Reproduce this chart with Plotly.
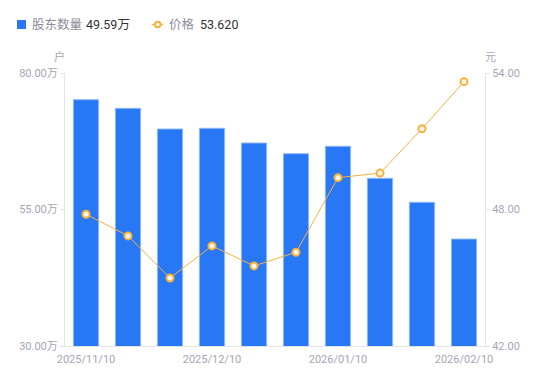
import plotly.graph_objects as go

dates = ["2025/11/10", "2025/11/20", "2025/11/30", "2025/12/10", "2025/12/20",
         "2025/12/31", "2026/01/10", "2026/01/20", "2026/01/31", "2026/02/10"]
holders = [75.11, 73.53, 69.74, 69.87, 67.18, 65.22, 66.58, 60.71, 56.32, 49.59]  # 万户
prices = [47.79, 46.84, 44.99, 46.40, 45.52, 46.12, 49.40, 49.60, 51.55, 53.62]

x_tickvals = ["2025/11/10", "2025/12/10", "2026/01/10", "2026/02/10"]
left_tickvals = [30, 55, 80]
left_ticktext = ["30.00万", "55.00万", "80.00万"]
right_tickvals = [42, 48, 54]
right_ticktext = ["42.00", "48.00", "54.00"]

holder_label = "股东数量"
holder_latest = "49.59万"
price_label = "价格"
price_latest = "53.620"

BLUE = "#2878F5"
ORANGE = "#F7B13C"
GRAY = "#A3A6B4"
LEG_GRAY = "#8A8D99"
DARK = "#333333"
AXIS = "#E3E5EA"
FONT = "Roboto, Noto Sans CJK SC, sans-serif"

# page has an 8px body margin; figure is sized to fill the 550x381 window
OFF = 8
W, H = 550 - OFF, 381 - OFF
# plot area in page pixels
PL, PR, PT, PB = 65, 485, 73, 346
L, R, T, B = PL - OFF, W - (PR - OFF), PT - OFF, H - (PB - OFF)
PW, PH = PR - PL, PB - PT


def px(x):
    return (x - PL) / PW


def py(y):
    return (PB - y) / PH


fig = go.Figure()
fig.add_trace(go.Bar(
    x=dates, y=holders, yaxis="y", name=holder_label,
    marker=dict(color=BLUE, line=dict(color="#8DB8FA", width=1)),
    width=0.6,
))
fig.add_trace(go.Scatter(
    x=dates, y=prices, yaxis="y2", mode="lines+markers", name=price_label,
    line=dict(color=ORANGE, width=1),
    marker=dict(size=7, color="#FFF6E6", line=dict(color=ORANGE, width=2)),
))

ann = []
shapes = []
# legend
shapes.append(dict(type="rect", xref="paper", yref="paper",
                   x0=px(17), x1=px(26), y0=py(29), y1=py(20),
                   fillcolor=BLUE, line=dict(width=0)))
shapes.append(dict(type="line", xref="paper", yref="paper",
                   x0=px(152), x1=px(163), y0=py(24.5), y1=py(24.5),
                   line=dict(color=ORANGE, width=1.5)))
shapes.append(dict(type="circle", xref="paper", yref="paper",
                   x0=px(155), x1=px(160.5), y0=py(27.3), y1=py(21.7),
                   fillcolor="white", line=dict(color=ORANGE, width=2)))
for txt, x, col in [(holder_label, 30, LEG_GRAY), (holder_latest, 84, DARK),
                    (price_label, 167, LEG_GRAY), (price_latest, 198, DARK)]:
    ann.append(dict(text=txt, xref="paper", yref="paper", x=px(x), y=py(25),
                    xanchor="left", yanchor="middle", showarrow=False,
                    font=dict(size=12.5, color=col, family=FONT)))
ann.append(dict(text="户", xref="paper", yref="paper", x=px(59), y=py(57),
                xanchor="center", yanchor="middle", showarrow=False,
                font=dict(size=11, color=GRAY)))
ann.append(dict(text="元", xref="paper", yref="paper", x=px(490), y=py(57),
                xanchor="center", yanchor="middle", showarrow=False,
                font=dict(size=11, color=GRAY)))

fig.update_layout(
    width=W, height=H,
    margin=dict(l=L, r=R, t=T, b=B, autoexpand=False),
    paper_bgcolor="white", plot_bgcolor="white",
    font=dict(family=FONT, size=11, color=GRAY),
    showlegend=False,
    bargap=0.4,
    xaxis=dict(
        type="category", range=[-0.5, len(dates) - 0.5],
        tickvals=x_tickvals, ticktext=x_tickvals,
        showline=True, linecolor=AXIS, linewidth=1,
        ticks="", showgrid=False, zeroline=False, automargin=False,
        ticklabelstandoff=3,
        tickfont=dict(size=11, color=GRAY),
    ),
    yaxis=dict(
        range=[30, 80], tickvals=left_tickvals, ticktext=left_ticktext,
        showline=True, linecolor=AXIS, linewidth=1,
        ticks="outside", ticklen=4, tickcolor=AXIS,
        showgrid=False, zeroline=False, automargin=False,
        tickfont=dict(size=11, color=GRAY),
    ),
    yaxis2=dict(
        range=[42, 54], tickvals=right_tickvals, ticktext=right_ticktext,
        overlaying="y", side="right",
        showline=True, linecolor=AXIS, linewidth=1,
        ticks="outside", ticklen=4, tickcolor=AXIS,
        showgrid=False, zeroline=False, automargin=False,
        tickfont=dict(size=11, color=GRAY),
    ),
    shapes=shapes,
    annotations=ann,
)

fig.write_html("out.html")
